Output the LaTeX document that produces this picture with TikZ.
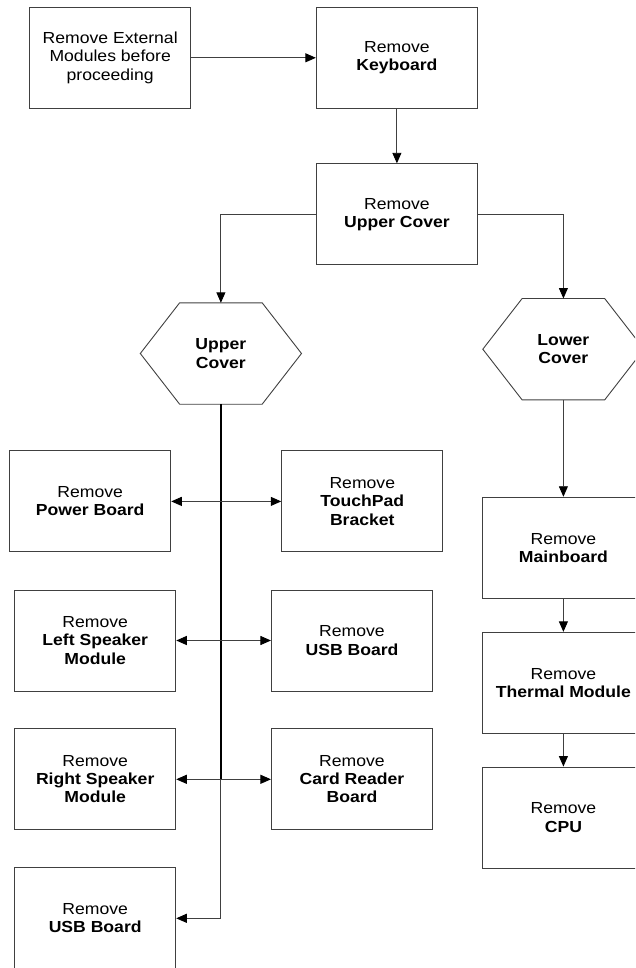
\documentclass[tikz,border=0pt]{standalone}
\usepackage{fontspec}
\setmainfont{Liberation Sans}[FakeStretch=1.1]
\usetikzlibrary{arrows.meta,calc}
\newcommand\drawhexagon[1]{%
  \draw[edge] (#1.west) -- ($(#1.north west)!0.244!(#1.north east)$) -- ($(#1.north west)!0.756!(#1.north east)$) -- (#1.east) -- ($(#1.south west)!0.756!(#1.south east)$) -- ($(#1.south west)!0.244!(#1.south east)$) -- cycle;}
\begin{document}
\begin{tikzpicture}[x=1pt,y=-1pt,
  font=\fontsize{16}{18.2}\selectfont,
  tip/.tip={Triangle[length=10.5pt,width=9pt,color=black,fill=black]},
  edge/.style={draw=black!75,line width=0.9pt},
  stepbox/.style={draw=black!75,line width=0.9pt,minimum width=161.2pt,minimum height=101pt,inner sep=0pt,align=center},
  hexnode/.style={minimum width=160.8pt,minimum height=101pt,inner sep=0pt,align=center},
  conn/.style={draw=black!75,line width=0.9pt,-tip},
  dconn/.style={draw=black!75,line width=0.9pt,tip-tip},
  trunk/.style={draw=black,line width=1.7pt}]
\useasboundingbox (0,0) rectangle (635,968);
\clip (0,0) rectangle (635,968);
% top row
\node[stepbox] (ext) at (110.2,57.8) {Remove External\\Modules before\\proceeding};
\node[stepbox] (kb) at (396.9,57.8) {Remove\\\textbf{Keyboard}};
\node[stepbox] (ucbox) at (396.9,214.3) {Remove\\\textbf{Upper Cover}};
% hexagons
\node[hexnode] (uhex) at (220.9,353.5) {\textbf{Upper}\\\textbf{Cover}};
\node[hexnode] (lhex) at (563.4,349.2) {\textbf{Lower}\\\textbf{Cover}};
\drawhexagon{uhex}
\drawhexagon{lhex}
% left branch
\node[stepbox] (pwr) at (90.2,501.4) {Remove\\\textbf{Power Board}};
\node[stepbox] (tp) at (362.3,501.4) {Remove\\\textbf{TouchPad}\\\textbf{Bracket}};
\node[stepbox] (lspk) at (95.2,640.5) {Remove\\\textbf{Left Speaker}\\\textbf{Module}};
\node[stepbox] (usb) at (352,640.5) {Remove\\\textbf{USB Board}};
\node[stepbox] (rspk) at (95.2,779.3) {Remove\\\textbf{Right Speaker}\\\textbf{Module}};
\node[stepbox] (card) at (352,779.3) {Remove\\\textbf{Card Reader}\\\textbf{Board}};
\node[stepbox] (busb) at (95.2,918.3) {Remove\\\textbf{USB Board}};
% right branch
\node[stepbox] (mb) at (563.4,547.7) {Remove\\\textbf{Mainboard}};
\node[stepbox] (th) at (563.4,682.8) {Remove\\\textbf{Thermal Module}};
\node[stepbox] (cpu) at (563.4,817.5) {Remove\\\textbf{CPU}};
% connectors
\draw[conn] (ext) -- (kb);
\draw[conn] (kb) -- (ucbox);
\draw[conn] (ucbox.west) -| (uhex.north);
\draw[conn] (ucbox.east) -| (lhex.north);
\draw[conn] (lhex.south) -- (mb.north);
\draw[conn] (mb) -- (th);
\draw[conn] (th) -- (cpu);
\draw[conn] (uhex.south) |- (busb.east);
\draw[trunk] (uhex.south) -- (uhex.south |- rspk.east);
\draw[dconn] (pwr.east) -- (tp.west);
\draw[dconn] (lspk.east) -- (usb.west);
\draw[dconn] (rspk.east) -- (card.west);
\end{tikzpicture}
\end{document}
